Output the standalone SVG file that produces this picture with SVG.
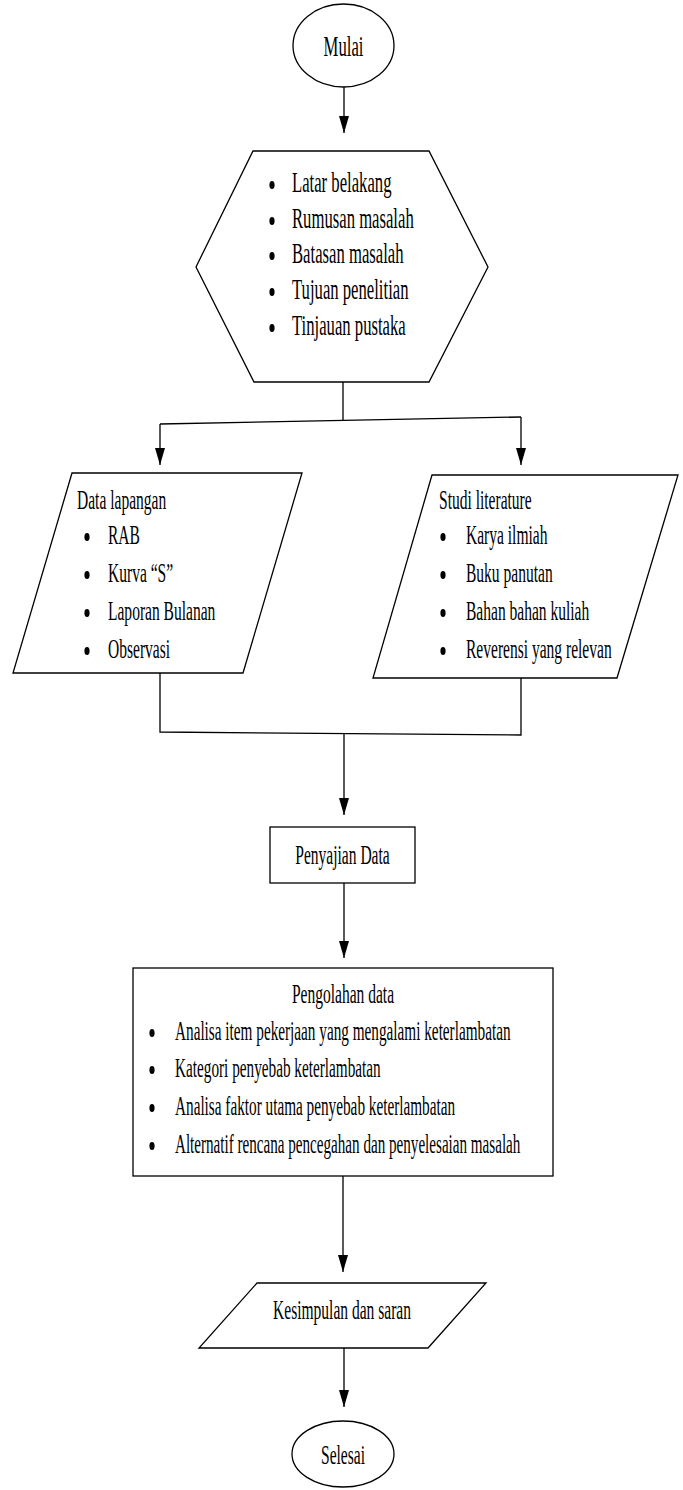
<svg xmlns="http://www.w3.org/2000/svg" width="683" height="1490" viewBox="0 0 683 1490">
<style>
.s{fill:#fff;stroke:#000;stroke-width:1.3}
.c{fill:none;stroke:#000;stroke-width:1.3}
.t{font-family:"Liberation Serif","Times New Roman",serif;font-size:27px;fill:#000}
.h{font-size:29px}
.m{text-anchor:middle}
</style>
<defs>
<marker id="ad" viewBox="0 0 10 17" refX="5" refY="17" markerWidth="10" markerHeight="17" markerUnits="userSpaceOnUse" orient="0"><path d="M0,0 L10,0 L5,17 Z" fill="#000"/></marker>
<ellipse id="bl" cx="0" cy="0" rx="2.6" ry="4" fill="#000"/>
</defs>
<g id="connectors">
<path class="c" d="M344,87 V133" marker-end="url(#ad)"/>
<path class="c" d="M343,382 V421"/>
<path class="c" d="M160,424 L521,417" stroke-width="2"/>
<path class="c" d="M160,424 V465" marker-end="url(#ad)"/>
<path class="c" d="M521,417 V465" marker-end="url(#ad)"/>
<path class="c" d="M160,673 V732 L521,735 V678"/>
<path class="c" d="M344,734 V815" marker-end="url(#ad)"/>
<path class="c" d="M344,883 V958" marker-end="url(#ad)"/>
<path class="c" d="M343,1176 V1272" marker-end="url(#ad)"/>
<path class="c" d="M344,1348 V1407" marker-end="url(#ad)"/>
</g>
<g id="mulai">
<ellipse class="s" cx="343.5" cy="45.5" rx="50.5" ry="41.5"/>
<text class="t h m" transform="translate(343.5,56) scale(0.575,1)">Mulai</text>
</g>
<g id="pendahuluan">
<polygon class="s" points="253,151 429,151 488,267 429,382 254,382 196,267"/>
<use href="#bl" x="272" y="185"/>
<text class="t h" transform="translate(292,192) scale(0.575,1)">Latar belakang</text>
<use href="#bl" x="272" y="221"/>
<text class="t h" transform="translate(292,228) scale(0.575,1)">Rumusan masalah</text>
<use href="#bl" x="272" y="256"/>
<text class="t h" transform="translate(292,263) scale(0.575,1)">Batasan masalah</text>
<use href="#bl" x="272" y="292"/>
<text class="t h" transform="translate(292,299) scale(0.575,1)">Tujuan penelitian</text>
<use href="#bl" x="272" y="328"/>
<text class="t h" transform="translate(292,335) scale(0.575,1)">Tinjauan pustaka</text>
</g>
<g id="data-lapangan">
<polygon class="s" points="72,473 302,473 243,673 13,673"/>
<text class="t" transform="translate(77,509) scale(0.575,1)">Data lapangan</text>
<use href="#bl" x="87" y="537"/>
<text class="t" transform="translate(108,544) scale(0.575,1)">RAB</text>
<use href="#bl" x="87" y="575"/>
<text class="t" transform="translate(108,582) scale(0.575,1)">Kurva “S”</text>
<use href="#bl" x="87" y="613"/>
<text class="t" transform="translate(108,620) scale(0.575,1)">Laporan Bulanan</text>
<use href="#bl" x="87" y="651"/>
<text class="t" transform="translate(108,658) scale(0.575,1)">Observasi</text>
</g>
<g id="studi-literature">
<polygon class="s" points="432,475 678,475 617,678 373,678"/>
<text class="t" transform="translate(439,509) scale(0.575,1)">Studi literature</text>
<use href="#bl" x="443" y="537"/>
<text class="t" transform="translate(466,544) scale(0.575,1)">Karya ilmiah</text>
<use href="#bl" x="443" y="575"/>
<text class="t" transform="translate(466,582) scale(0.575,1)">Buku panutan</text>
<use href="#bl" x="443" y="613"/>
<text class="t" transform="translate(466,620) scale(0.575,1)">Bahan bahan kuliah</text>
<use href="#bl" x="443" y="651"/>
<text class="t" transform="translate(466,658) scale(0.575,1)">Reverensi yang relevan</text>
</g>
<g id="penyajian-data">
<rect class="s" x="270" y="827" width="145" height="56"/>
<text class="t m" transform="translate(342.5,864) scale(0.575,1)">Penyajian Data</text>
</g>
<g id="pengolahan-data">
<rect class="s" x="133" y="968" width="420" height="208"/>
<text class="t m" transform="translate(343,1003) scale(0.575,1)">Pengolahan data</text>
<use href="#bl" x="152" y="1033"/>
<text class="t" transform="translate(175,1040) scale(0.565,1)">Analisa item pekerjaan yang mengalami keterlambatan</text>
<use href="#bl" x="152" y="1070"/>
<text class="t" transform="translate(175,1077) scale(0.565,1)">Kategori penyebab keterlambatan</text>
<use href="#bl" x="152" y="1108"/>
<text class="t" transform="translate(175,1115) scale(0.565,1)">Analisa faktor utama penyebab keterlambatan</text>
<use href="#bl" x="152" y="1146"/>
<text class="t" transform="translate(175,1153) scale(0.56,1)">Alternatif rencana pencegahan dan penyelesaian masalah</text>
</g>
<g id="kesimpulan">
<polygon class="s" points="257,1283 486,1283 428,1348 199,1348"/>
<text class="t m" transform="translate(342,1319) scale(0.575,1)">Kesimpulan dan saran</text>
</g>
<g id="selesai">
<ellipse class="s" cx="343" cy="1454" rx="51" ry="33"/>
<text class="t m" transform="translate(343,1464) scale(0.575,1)">Selesai</text>
</g>
</svg>
